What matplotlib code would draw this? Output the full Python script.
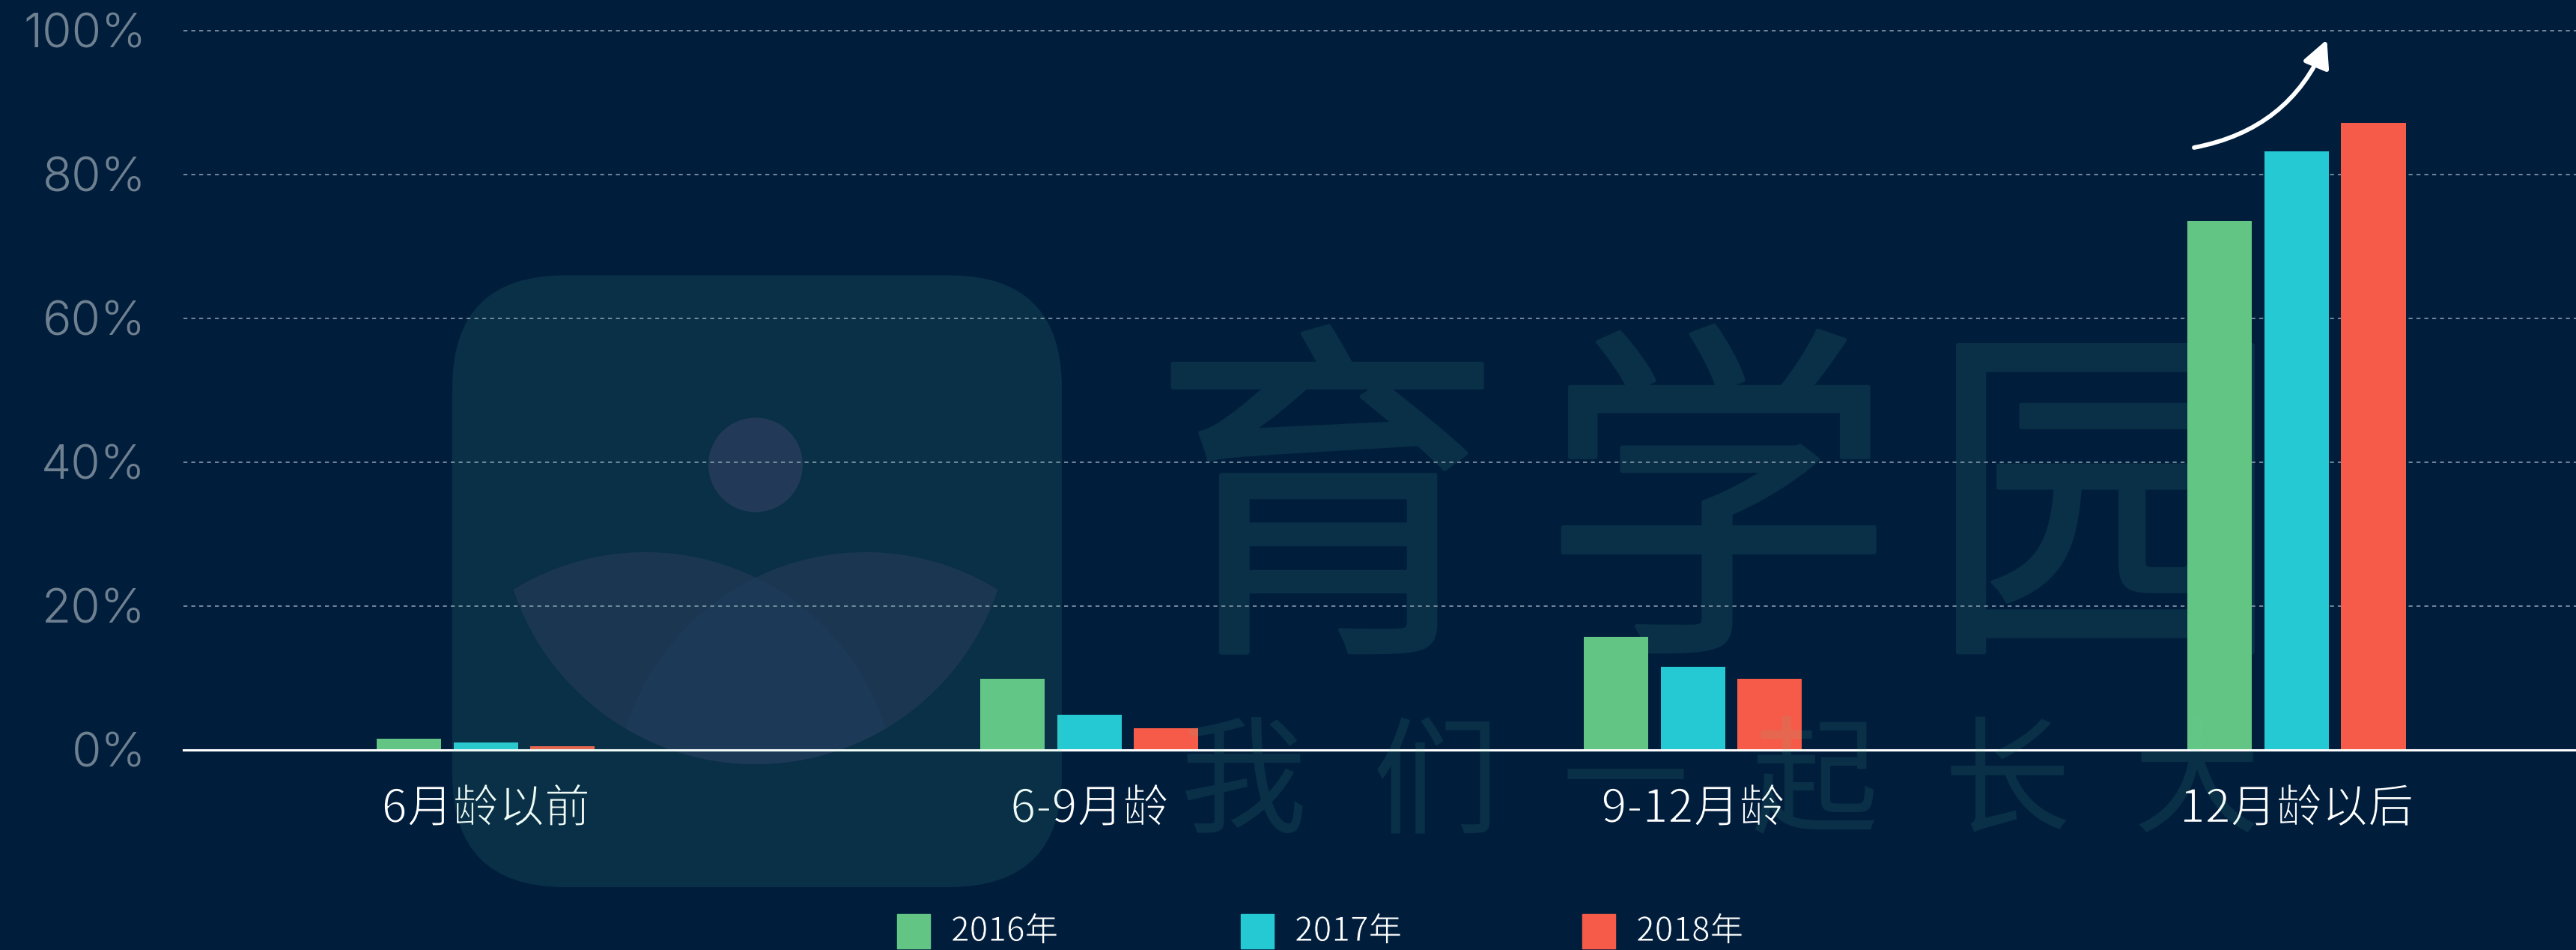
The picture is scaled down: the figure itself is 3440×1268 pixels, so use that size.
import numpy as np
import matplotlib
matplotlib.use('Agg')
import matplotlib.pyplot as plt
import matplotlib.patheffects as pe
from matplotlib.patches import FancyArrowPatch, FancyBboxPatch, Circle, Rectangle, Polygon

plt.rcParams['font.family'] = ['Noto Sans CJK SC', 'DejaVu Sans']

# 数据
categories = ['6月龄以前', '6-9月龄', '9-12月龄', '12月龄以后']
years = ['2016年', '2017年', '2018年']
v2016 = [1.5, 9.85, 15.7, 73.5]
v2017 = [1.0, 4.85, 11.5, 83.2]
v2018 = [0.45, 3.0, 9.85, 87.1]
yticks = [0, 20, 40, 60, 80, 100]
colors = ['#62C584', '#24C9D3', '#F55B48']

BG = '#001E3C'
W, H = 3441, 1268


# 字体没有细体，用背景色描边把笔画收细
class Thin(pe.AbstractPathEffect):
    def __init__(self, lw):
        super().__init__()
        self.lw = lw

    def draw_path(self, renderer, gc, tpath, affine, rgbFace=None):
        renderer.draw_path(gc, tpath, affine, rgbFace)
        gc0 = renderer.new_gc()
        gc0.copy_properties(gc)
        gc0.set_linewidth(self.lw)
        gc0.set_foreground(BG)
        renderer.draw_path(gc0, tpath, affine, None)
        gc0.restore()


def pixel_axes(z):
    a = fig.add_axes([0, 0, 1, 1], zorder=z)
    a.set_xlim(0, W)
    a.set_ylim(H, 0)
    a.axis('off')
    return a


# 两个圆相交的部分
def lens(c1, r1, c2, r2):
    t = np.linspace(0, 2 * np.pi, 1440)
    c1, c2 = np.array(c1), np.array(c2)
    p1 = c1 + r1 * np.c_[np.cos(t), np.sin(t)]
    p2 = c2 + r2 * np.c_[np.cos(t), np.sin(t)]
    pts = np.vstack([p1[np.hypot(*(p1 - c2).T) <= r2], p2[np.hypot(*(p2 - c1).T) <= r1]])
    mid = pts.mean(axis=0)
    return pts[np.argsort(np.arctan2(pts[:, 1] - mid[1], pts[:, 0] - mid[0]))]


fig = plt.figure(figsize=(W / 100, H / 100), dpi=100, facecolor=BG)

# 水印底层
under = pixel_axes(0)
bowl_c, bowl_r = (1009, 679), 341
left_pts = lens(bowl_c, bowl_r, (862, 1073), 336)
right_pts = lens(bowl_c, bowl_r, (1156, 1073), 336)
under.add_patch(Polygon(left_pts, fc='#142549', ec='none'))
under.add_patch(Polygon(right_pts, fc='#142549', ec='none'))
overlap = Polygon(left_pts, fc='#172850', ec='none')
under.add_patch(overlap)
overlap.set_clip_path(Polygon(right_pts, transform=under.transData))
under.add_patch(Circle((1009, 620.5), 63, fc='#1C2950', ec='none'))
for ch, cx in zip('育学园', [1772, 2294, 2811]):
    under.text(cx, 833, ch, fontsize=338, color='#093046', ha='center', va='baseline',
               path_effects=[pe.Stroke(linewidth=4, foreground='#093046', joinstyle='round'), pe.Normal()])

ax = fig.add_axes([245 / W, 1 - 1000.5 / H, 1 - 245 / W, 960 / H], zorder=1)
ax.patch.set_visible(False)
ax.set_xlim(-0.501, 3.464)
ax.set_ylim(0, 100)

# 柱子
x = np.arange(len(categories))
bw = 86 / 806
step = 102.5 / 806
for i, vals in enumerate([v2016, v2017, v2018]):
    ax.bar(x + (i - 1) * step, vals, width=bw, color=colors[i], zorder=3)

# 网格线
for t in yticks[1:]:
    ax.axhline(t, color='#75879A', lw=1.4, ls=(0, (2.7, 2.7)), zorder=1, clip_on=False)
ax.axhline(0, color='white', lw=2.2, zorder=4, clip_on=False)

for s in ax.spines.values():
    s.set_visible(False)
ax.set_xticks(x)
ax.set_xticklabels(categories, fontsize=44, color='white',
                   path_effects=[Thin(1.2)])
ax.set_yticks(yticks)
ax.set_yticklabels([f'{t}%' for t in yticks], fontsize=46, color='#6F8090',
                   family='Inter', fontweight=300)
ax.tick_params(axis='both', length=0)
ax.tick_params(axis='x', pad=35)
ax.tick_params(axis='y', pad=36)

# 箭头
arrow = FancyArrowPatch((2.83, 83.7), (3.05, 98.7), connectionstyle='arc3,rad=0.27',
                        arrowstyle='-|>,head_length=22,head_width=11', color='white',
                        lw=4.2, shrinkA=0, shrinkB=0, zorder=5, mutation_scale=1)
ax.add_patch(arrow)

# 图例
legend_x = [1198, 1657, 2113]
for lx, c, y in zip(legend_x, colors, years):
    fig.add_artist(Rectangle((lx / W, 1 - 1266 / H), 44 / W, 46 / H, color=c,
                             transform=fig.transFigure))
    fig.text((lx + 72) / W, 1 - 1243 / H, y, fontsize=32, color='white', va='center',
             path_effects=[Thin(0.7)])

# 水印上层，半透明盖在柱子和文字上
top = pixel_axes(5)
wm = '#5AD2A0'
top.add_patch(FancyBboxPatch((604, 367.5), 814, 816.5, boxstyle='round,pad=0,rounding_size=150',
                             fc=wm, ec='none', alpha=0.1))
for ch, cx in zip('我们一起长大', [1660, 1918, 2170, 2423, 2680, 2933]):
    top.text(cx, 1098, ch, fontsize=122, color=wm, alpha=0.1, ha='center', va='baseline')

fig.savefig('out.png', dpi=100, facecolor=BG)
